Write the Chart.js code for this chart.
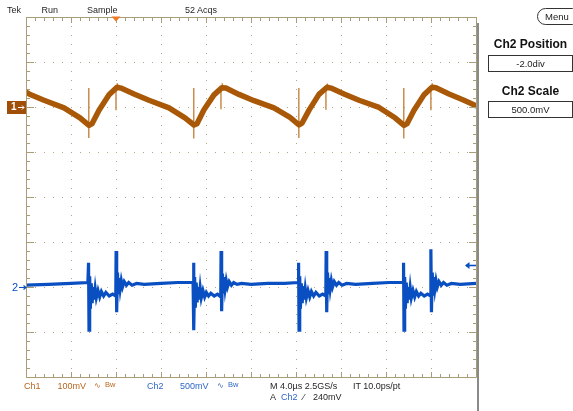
<!DOCTYPE html>
<html><head><meta charset="utf-8">
<script src="https://cdn.jsdelivr.net/npm/chart.js@4"></script>
<style>
html,body{margin:0;padding:0;background:#fff;}
#wrap{position:relative;width:573px;height:411px;overflow:hidden;font-family:"Liberation Sans",Arial,sans-serif;background:#fff;}
#c{position:absolute;left:0;top:0;}
.t{position:absolute;font-size:9px;line-height:9px;white-space:nowrap;color:#262626;}
.o{color:#b8661e;}
.b{color:#2f66c8;}
.sm{font-size:7.5px;}
.hd{position:absolute;font-weight:bold;font-size:12px;line-height:12px;white-space:nowrap;color:#111;width:85px;text-align:center;}
.box{position:absolute;box-sizing:border-box;border:1px solid #333;width:85px;height:17px;font-size:9.5px;line-height:15px;text-align:center;color:#222;}
#menu{position:absolute;left:537px;top:8px;width:44px;height:17px;box-sizing:border-box;border:1px solid #333;border-left-width:1.5px;border-radius:9px;font-size:9.5px;line-height:15px;padding-left:7px;color:#222;}
#divider{position:absolute;left:477px;top:23px;width:2px;height:388px;background:#8a8a8a;}
</style>
</head>
<body>
<div id="wrap">
<canvas id="c" width="573" height="411"></canvas>
<div id="divider"></div>
<div class="t" style="left:7px;top:6px;">Tek</div>
<div class="t" style="left:41.5px;top:6px;">Run</div>
<div class="t" style="left:87px;top:6px;">Sample</div>
<div class="t" style="left:185px;top:6px;">52 Acqs</div>

<div class="t o" style="left:24px;top:382px;">Ch1</div>
<div class="t o" style="left:57.5px;top:382px;">100mV</div>
<div class="t o sm" style="left:93.5px;top:381px;">∿</div>
<div class="t o sm" style="left:105px;top:380px;">Bw</div>
<div class="t b" style="left:147px;top:382px;">Ch2</div>
<div class="t b" style="left:180px;top:382px;">500mV</div>
<div class="t b sm" style="left:216.5px;top:381px;">∿</div>
<div class="t b sm" style="left:228px;top:380px;">Bw</div>
<div class="t" style="left:270px;top:382px;">M 4.0µs 2.5GS/s</div>
<div class="t" style="left:353px;top:382px;">IT 10.0ps/pt</div>
<div class="t" style="left:270px;top:392.5px;">A</div>
<div class="t b" style="left:281px;top:392.5px;">Ch2</div>
<div class="t" style="left:303px;top:392.5px;">⁄</div>
<div class="t" style="left:313px;top:392.5px;">240mV</div>

<div id="menu">Menu</div>
<div class="hd" style="left:488px;top:38px;">Ch2 Position</div>
<div class="box" style="left:488px;top:55px;">-2.0div</div>
<div class="hd" style="left:488px;top:85px;">Ch2 Scale</div>
<div class="box" style="left:488px;top:101px;">500.0mV</div>
</div>

<script>
// ---- data (time in µs, Ch1 in mV, Ch2 in V) ----
const timeRange = [0, 40];          // 10 div x 4.0 µs/div
const ch1Range = [-600, 200];       // 100 mV/div, ground +2 div
const ch2Range = [-1.0, 3.0];       // 500 mV/div, position -2.0 div
const triggerTime = 8.0;            // µs
const triggerLevel = 0.24;          // V (Ch2)

const ch1Trace = [
  [0,33],[0.27,29],[1.6,15],[3.38,-2],[4.8,-24],
  [5.60,-41],[5.87,-37],[6.49,-7],[7.38,27],[8.09,44],[8.44,42],[9.60,29],[10.93,15],[12.71,-2],[14.13,-24],
  [14.93,-40],[15.20,-37],[15.82,-6],[16.71,27],[17.42,43],[17.77,42],[18.93,28],[20.27,14],[22.04,-2],[23.47,-23],
  [24.27,-40],[24.53,-36],[25.16,-7],[26.04,28],[26.76,44],[27.11,42],[28.27,29],[29.60,15],[31.38,-1],[32.80,-24],
  [33.60,-41],[33.87,-37],[34.49,-7],[35.38,27],[36.09,44],[36.44,43],[37.60,29],[38.93,15],[40,3]
];
// [time, from mV, to mV]
const ch1Spikes = [
  [5.58,42,-69],[8.00,36,-7],[8.12,44,53],
  [14.91,42,-70],[17.33,36,-5],[17.45,43,53],
  [24.25,42,-69],[26.66,36,-6],[26.78,44,52],
  [33.58,42,-70],[35.99,36,-7],[36.11,44,53]
];

const ch2Seg1 = [
  [0,0.02],[2.0,0.03],[4.0,0.04],[5.50,0.05],[5.56,0.27],[5.60,-0.48],[5.66,0.12],[5.72,-0.24],[5.80,0.04],[5.88,-0.18],
  [5.96,0.00],[6.05,-0.14],[6.15,-0.02],[6.25,-0.12],[6.40,-0.04],[6.55,-0.11],[6.70,-0.05],[6.90,-0.10],[7.10,-0.06],[7.40,-0.10],
  [7.70,-0.08],[7.98,-0.10],[8.01,0.40],[8.06,-0.28],[8.13,0.16],[8.20,-0.08],[8.28,0.10],[8.37,-0.02],[8.47,0.07],[8.58,0.00],
  [8.73,0.06],[8.93,0.02],[9.13,0.05],[9.43,0.02],[9.83,0.04],[10.5,0.03],[12.0,0.04],[13.5,0.05],[14.85,0.05]
];
const ch2Seg2 = [
  [14.89,0.27],[14.93,-0.48],[14.99,0.11],[15.05,-0.23],[15.13,0.05],[15.21,-0.17],[15.29,0.00],[15.38,-0.14],[15.48,-0.01],[15.58,-0.12],
  [15.73,-0.04],[15.88,-0.11],[16.03,-0.06],[16.23,-0.10],[16.43,-0.07],[16.73,-0.10],[17.03,-0.08],[17.31,-0.11],[17.34,0.40],[17.39,-0.27],
  [17.46,0.15],[17.53,-0.07],[17.61,0.11],[17.70,-0.02],[17.80,0.07],[17.91,0.00],[18.06,0.06],[18.26,0.02],[18.46,0.05],[18.76,0.03],
  [19.16,0.04],[20.0,0.03],[21.5,0.04],[23.0,0.04],[24.19,0.05]
];
const ch2Seg3 = [
  [24.23,0.27],[24.27,-0.48],[24.33,0.12],[24.39,-0.24],[24.47,0.04],[24.55,-0.18],[24.63,0.01],[24.72,-0.14],[24.82,-0.02],[24.92,-0.12],
  [25.07,-0.04],[25.22,-0.11],[25.37,-0.05],[25.57,-0.10],[25.77,-0.06],[26.07,-0.10],[26.37,-0.08],[26.65,-0.10],[26.68,0.40],[26.73,-0.28],
  [26.80,0.16],[26.87,-0.08],[26.95,0.10],[27.04,-0.02],[27.14,0.07],[27.25,0.00],[27.40,0.06],[27.60,0.02],[27.80,0.05],[28.10,0.02],
  [28.50,0.04],[29.3,0.03],[30.8,0.04],[32.3,0.05],[33.52,0.05]
];
const ch2Seg4 = [
  [33.56,0.27],[33.60,-0.48],[33.66,0.11],[33.72,-0.24],[33.80,0.05],[33.88,-0.18],[33.96,0.00],[34.05,-0.14],[34.15,-0.01],[34.25,-0.12],
  [34.40,-0.04],[34.55,-0.11],[34.70,-0.05],[34.90,-0.10],[35.10,-0.07],[35.40,-0.10],[35.70,-0.08],[35.96,-0.10],[35.99,0.42],[36.04,-0.28],
  [36.11,0.16],[36.18,-0.08],[36.26,0.11],[36.35,-0.02],[36.45,0.07],[36.56,0.00],[36.71,0.06],[36.91,0.02],[37.11,0.05],[37.41,0.02],
  [37.81,0.04],[38.6,0.03],[40.0,0.04]
];

// ---- styles ----
const CH1 = '#a85806', CH1_LIGHT = '#c98c4c';
const CH2 = '#0a4fc2';
const GRID = '#b2a682', BORDER = '#a99d78';

const toXY = a => a.map(p => ({x: p[0], y: p[1]}));
const spikeData = [];
ch1Spikes.forEach(s => { spikeData.push({x:s[0],y:s[1]},{x:s[0],y:s[2]},{x:s[0],y:null}); });
const ch2Data = toXY([].concat(ch2Seg1, ch2Seg2, ch2Seg3, ch2Seg4));

const graticule = {
  id: 'graticule',
  afterDraw(chart) {
    const {ctx, chartArea: a, scales} = chart;
    const sx = scales.x, s1 = scales.y1, s2 = scales.y2;
    const L = Math.round(a.left), R = Math.round(a.right), T = Math.round(a.top), B = Math.round(a.bottom);
    ctx.save();
    ctx.strokeStyle = BORDER; ctx.lineWidth = 1;
    ctx.beginPath();
    ctx.moveTo(L + 0.5, T + 0.5); ctx.lineTo(R + 0.5, T + 0.5);
    ctx.moveTo(L + 0.5, B + 0.5); ctx.lineTo(R + 0.5, B + 0.5);
    ctx.moveTo(L + 0.5, T + 0.5); ctx.lineTo(L + 0.5, B + 0.5);
    ctx.moveTo(R + 0.5, T + 0.5); ctx.lineTo(R + 0.5, B + 0.5);
    for (let i = 0; i <= 50; i++) {
      const t = timeRange[0] + i * 0.8;
      const px = Math.round(sx.getPixelForValue(t)) + 0.5;
      const len = (i % 5 === 0) ? 6 : 4;
      ctx.moveTo(px, T); ctx.lineTo(px, T + len);
      ctx.moveTo(px, B); ctx.lineTo(px, B - len + 1);
    }
    for (let i = 0; i <= 40; i++) {
      const v = ch1Range[0] + i * 20;
      const py = Math.round(s1.getPixelForValue(v)) + 0.5;
      const len = (i % 5 === 0) ? 8 : 4;
      ctx.moveTo(L, py); ctx.lineTo(L + len, py);
      ctx.moveTo(R, py); ctx.lineTo(R - len + 1, py);
    }
    ctx.stroke();

    const tx = sx.getPixelForValue(triggerTime);
    ctx.fillStyle = '#f07820';
    ctx.beginPath(); ctx.moveTo(tx - 4.5, T - 0.5); ctx.lineTo(tx + 4.5, T - 0.5); ctx.lineTo(tx, T + 4.5); ctx.closePath(); ctx.fill();

    const g1 = Math.round(s1.getPixelForValue(0));
    ctx.fillStyle = '#a04f08';
    ctx.fillRect(7, g1 - 6, 19, 13);
    ctx.fillStyle = '#ffffff';
    ctx.font = 'bold 10px "Liberation Sans", Arial, sans-serif';
    ctx.textBaseline = 'middle';
    ctx.fillText('1', 11, g1 + 0.5);
    ctx.strokeStyle = '#ffffff'; ctx.lineWidth = 1;
    ctx.beginPath(); ctx.moveTo(18, g1 + 0.5); ctx.lineTo(24, g1 + 0.5);
    ctx.moveTo(22, g1 - 1.5); ctx.lineTo(24, g1 + 0.5); ctx.lineTo(22, g1 + 2.5); ctx.stroke();

    const g2 = Math.round(s2.getPixelForValue(0));
    ctx.fillStyle = CH2; ctx.strokeStyle = CH2;
    ctx.font = '11px "Liberation Sans", Arial, sans-serif';
    ctx.fillText('2', 12, g2 + 1);
    ctx.lineWidth = 1.2;
    ctx.beginPath(); ctx.moveTo(19, g2 + 0.5); ctx.lineTo(26, g2 + 0.5);
    ctx.moveTo(23.5, g2 - 1.5); ctx.lineTo(26, g2 + 0.5); ctx.lineTo(23.5, g2 + 2.5); ctx.stroke();

    const ty = Math.round(s2.getPixelForValue(triggerLevel)) + 0.5;
    ctx.lineWidth = 1.6;
    ctx.beginPath(); ctx.moveTo(466, ty); ctx.lineTo(476, ty); ctx.stroke();
    ctx.beginPath(); ctx.moveTo(465, ty); ctx.lineTo(469.5, ty - 3.5); ctx.lineTo(469.5, ty + 3.5); ctx.closePath(); ctx.fill();
    ctx.restore();
  }
};

const gridOpts = {color: GRID, lineWidth: 1, drawTicks: false};
new Chart(document.getElementById('c'), {
  type: 'line',
  data: {
    datasets: [
      {label: 'Ch1', data: toXY(ch1Trace), yAxisID: 'y1', borderColor: CH1, borderWidth: 5.5, pointRadius: 0, tension: 0, borderJoinStyle: 'round', borderCapStyle: 'round'},
      {label: 'Ch1 spikes', data: spikeData, yAxisID: 'y1', borderColor: CH1_LIGHT, borderWidth: 1.5, pointRadius: 0, spanGaps: false},
      {label: 'Ch2', data: ch2Data, yAxisID: 'y2', borderColor: CH2, borderWidth: 3.2, pointRadius: 0, tension: 0}
    ]
  },
  options: {
    responsive: false, animation: false, devicePixelRatio: 1,
    layout: {padding: {left: 26, top: 17, right: 97, bottom: 34}},
    plugins: {legend: {display: false}, tooltip: {enabled: false}},
    scales: {
      x: {type: 'linear', min: timeRange[0], max: timeRange[1], ticks: {display: false, stepSize: 4}, grid: gridOpts, border: {display: false, dash: [1, 8]}},
      y1: {type: 'linear', position: 'left', min: ch1Range[0], max: ch1Range[1], ticks: {display: false, stepSize: 100}, grid: gridOpts, border: {display: false, dash: [1, 8]}},
      y2: {type: 'linear', position: 'right', min: ch2Range[0], max: ch2Range[1], display: false}
    }
  },
  plugins: [graticule]
});
</script>
</body></html>
